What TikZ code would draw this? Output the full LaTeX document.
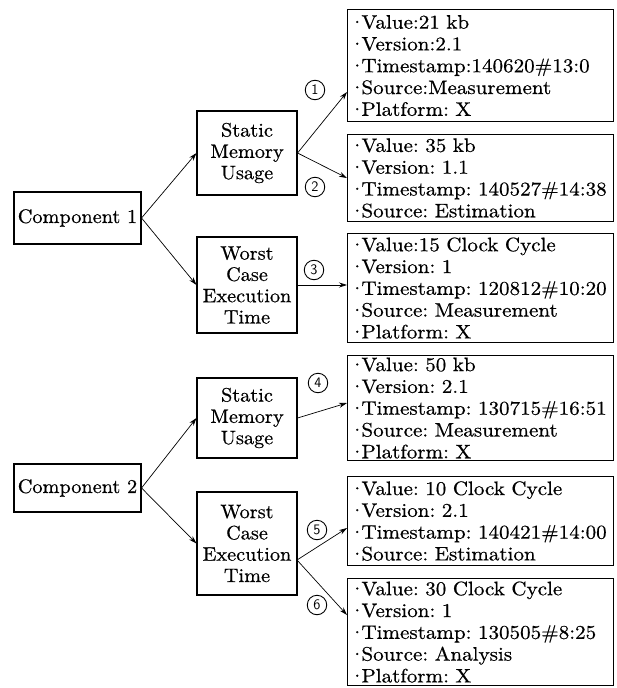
\documentclass[tikz,border=0pt]{standalone}
\usepackage{fontspec}
\newfontfamily\infofont{lmroman10-regular.otf}[FakeBold=0.6,FakeStretch=1.08]
\newfontfamily\boxfont{lmroman10-regular.otf}[FakeBold=0.6,FakeStretch=1.04]
\usetikzlibrary{arrows.meta}
\newcommand\mybul{·\kern-4pt}
\begin{document}
\frenchspacing
\begin{tikzpicture}[x=1pt,y=-1pt,
  box/.style={draw, line width=1.1pt, inner sep=0pt, align=center, font=\boxfont\fontsize{19.5}{21.3}\selectfont},
  info/.style={draw, line width=1.1pt, anchor=north west, minimum width=266pt, text width=263pt, inner xsep=1.5pt, inner ysep=0pt, align=left, font=\infofont\fontsize{19.5}{21.8}\selectfont},
  conn/.style={line width=0.7pt, -{Stealth[length=8pt,width=5pt]}},
  num/.style={circle, draw, line width=0.9pt, minimum size=19.5pt, inner sep=0pt, font=\sffamily\fontsize{14.5}{14.5}\selectfont}
]
\useasboundingbox (0,0) rectangle (616,688);

% left column
\node[box, minimum width=127pt, minimum height=52pt] (comp1) at (77.5,218) {Component 1};
\node[box, minimum width=127pt, minimum height=48pt] (comp2) at (77.5,488) {Component 2};

% middle column
\node[box, minimum width=100pt, minimum height=84pt] (smu1) at (247,153) {Static\\Memory\\Usage};
\node[box, minimum width=100pt, minimum height=96pt] (wcet1) at (247,285) {Worst\\Case\\Execution\\Time};
\node[box, minimum width=100pt, minimum height=80pt] (smu2) at (247,418) {Static\\Memory\\Usage};
\node[box, minimum width=100pt, minimum height=103pt] (wcet2) at (247,543.5) {Worst\\Case\\Execution\\Time};

% info boxes
\node[info, minimum height=112pt] (iA) at (347,9) {\mybul Value:21 kb\\\mybul Version:2.1\\\mybul Timestamp:140620\#13:0\\\mybul Source:Measurement\\\mybul Platform: X};
\node[info, minimum height=87pt] (iB) at (347,134) {\mybul Value: 35 kb\\\mybul Version: 1.1\\\mybul Timestamp: 140527\#14:38\\\mybul Source: Estimation};
\node[info, minimum height=109pt] (iC) at (347,233) {\mybul Value:15 Clock Cycle\\\mybul Version: 1\\\mybul Timestamp: 120812\#10:20\\\mybul Source: Measurement\\\mybul Platform: X};
\node[info, minimum height=105pt] (iD) at (347,355) {\mybul Value: 50 kb\\\mybul Version: 2.1\\\mybul Timestamp: 130715\#16:51\\\mybul Source: Measurement\\\mybul Platform: X};
\node[info, minimum height=89pt] (iE) at (347,476) {\mybul Value: 10 Clock Cycle\\\mybul Version: 2.1\\\mybul Timestamp: 140421\#14:00\\\mybul Source: Estimation};
\node[info, minimum height=107pt] (iF) at (347,578) {\mybul Value: 30 Clock Cycle\\\mybul Version: 1\\\mybul Timestamp: 130505\#8:25\\\mybul Source: Analysis\\\mybul Platform: X};

% arrow targets on info boxes
\coordinate (pA) at (347,92);
\coordinate (pB) at (347,178);
\coordinate (pC) at (347,285);
\coordinate (pD) at (347,403);
\coordinate (pE) at (347,528);
\coordinate (pF) at (347,615);
\coordinate (w2out) at (297,560);

% connectors
\draw[conn] (comp1.east) -- (smu1.west);
\draw[conn] (comp1.east) -- (wcet1.west);
\draw[conn] (comp2.east) -- (smu2.west);
\draw[conn] (comp2.east) -- (wcet2.west);
\draw[conn] (smu1.east) -- (pA);
\draw[conn] (smu1.east) -- (pB);
\draw[conn] (wcet1.east) -- (pC);
\draw[conn] (smu2.east) -- (pD);
\draw[conn] (w2out) -- (pE);
\draw[conn] (w2out) -- (pF);

% labels
\node[num] (n1) at (315,90) {1};
\node[num] (n2) at (315,187) {2};
\node[num] (n3) at (314,270) {3};
\node[num] (n4) at (318,383) {4};
\node[num] (n5) at (317,530) {5};
\node[num] (n6) at (317,605) {6};
\end{tikzpicture}
\end{document}
